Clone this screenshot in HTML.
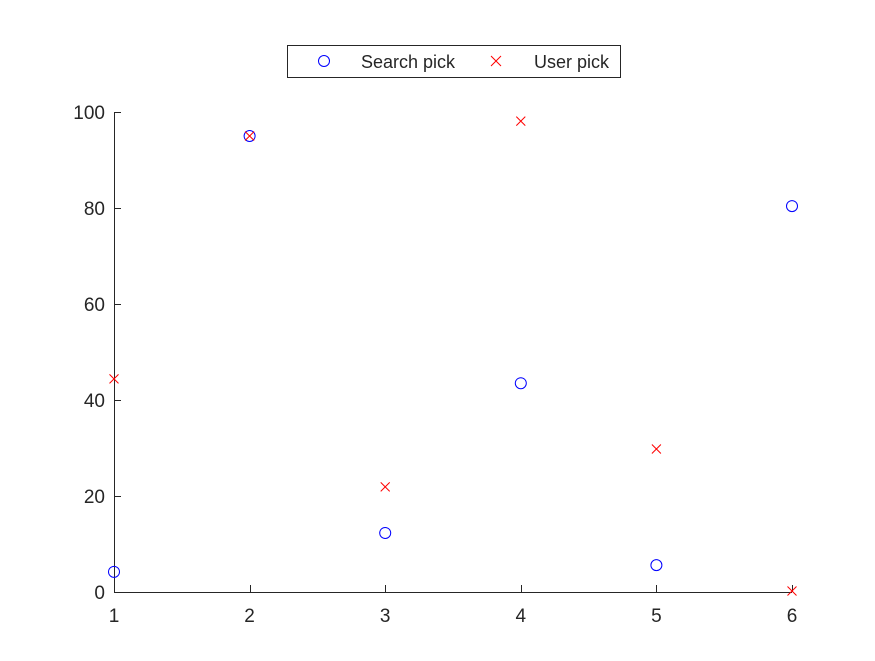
<!DOCTYPE html>
<html><head><meta charset="utf-8"><style>
body{margin:0;background:#fff;}
svg text{font-family:"Liberation Sans",Arial,sans-serif;fill:#262626;}
</style></head><body>
<svg id="chart" width="875" height="656">
<rect width="875" height="656" fill="#fff"/>
<g id="axes"></g>
<g id="marks"></g>
<g>
<rect x="287.5" y="45.5" width="333" height="32" fill="#fff" stroke="#262626" stroke-width="1"/>
<g>
<circle cx="324" cy="61" r="5.5" fill="none" stroke="#0000ff" stroke-width="1"/>
<text x="361" y="68" font-size="18">Search pick</text></g>
<g>
<path d="M491,56 L501,66 M501,56 L491,66" stroke="#ff0000" stroke-width="1"/>
<text x="534" y="68" font-size="18">User pick</text></g>
</g>
</svg>
<script>
const xCats=[1,2,3,4,5,6];
const searchPick=[4.2,95,12.3,43.5,5.6,80.4];
const userPick=[44.4,95,21.9,98.1,29.8,0.2];
const xTicks=[1,2,3,4,5,6];
const yTicks=[0,20,40,60,80,100];
const X0=114,X1=792,Y0=592,Y1=112;
const sx=v=>X0+(v-1)/(6-1)*(X1-X0);
const sy=v=>Y0-(v-0)/(100-0)*(Y0-Y1);
const NS="http://www.w3.org/2000/svg";
const axes=document.getElementById('axes'),marks=document.getElementById('marks');
function mk(tag,attrs,parent){const e=document.createElementNS(NS,tag);for(const k in attrs)e.setAttribute(k,attrs[k]);parent.appendChild(e);return e;}
const xa=mk('line',{x1:X0,y1:Y0+0.5,x2:X1,y2:Y0+0.5,stroke:'#262626'},axes);


const ya=mk('line',{x1:X0+0.5,y1:Y1,x2:X0+0.5,y2:Y0,stroke:'#262626'},axes);


xTicks.forEach(t=>{
 const x=Math.round(sx(t))+0.5;
 mk('line',{x1:x,y1:Y0,x2:x,y2:Y0-7,stroke:'#262626'},axes);
 const tx=mk('text',{x:sx(t),y:Y0+30,'font-size':19,'text-anchor':'middle'},axes);
 tx.textContent=t;
 
 
});
yTicks.forEach(t=>{
 const y=Math.round(sy(t))+0.5;
 mk('line',{x1:X0,y1:y,x2:X0+7,y2:y,stroke:'#262626'},axes);
 const tx=mk('text',{x:X0-9,y:sy(t)+7,'font-size':19,'text-anchor':'end'},axes);
 tx.textContent=t;
 
 
});
xCats.forEach((c,i)=>{
 const p=mk('circle',{cx:sx(c),cy:sy(searchPick[i]),r:5.5,fill:'none',stroke:'#0000ff','stroke-width':1},marks);
 
 
});
xCats.forEach((c,i)=>{
 const x=sx(c),y=sy(userPick[i]);
 const p=mk('path',{d:`M${x-4.5},${y-4.5} L${x+4.5},${y+4.5} M${x+4.5},${y-4.5} L${x-4.5},${y+4.5}`,stroke:'#ff0000','stroke-width':1},marks);
 
 
});
</script>
</body></html>
